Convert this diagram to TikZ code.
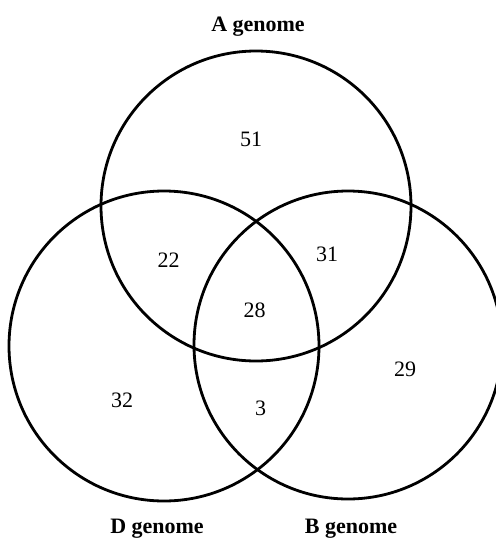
\documentclass[tikz,border=0pt]{standalone}
\usepackage{fontspec}
\setmainfont{Liberation Serif}
\begin{document}
\begin{tikzpicture}[x=1pt,y=-1pt,
  ring/.style={draw=black,line width=2.8pt},
  num/.style={inner sep=0pt,font=\fontsize{22}{25}\selectfont},
  lab/.style={inner sep=0pt,anchor=base,font=\fontsize{22}{25}\selectfont\bfseries}]
\useasboundingbox (0,0) rectangle (496,539);
\draw[ring] (256,206) circle[radius=155];
\draw[ring] (164,346) circle[radius=155];
\draw[ring] (348,345) circle[radius=154];
\node[lab] (la) at (258,31) {A genome};
\node[lab] (ld) at (157,533) {D genome};
\node[lab] (lb) at (351,533) {B genome};
\node[num] (n51) at (251,139.5) {51};
\node[num] (n22) at (168.5,260) {22};
\node[num] (n31) at (327,254) {31};
\node[num] (n28) at (254.5,310.5) {28};
\node[num] (n32) at (122,400) {32};
\node[num] (n3) at (260.5,408) {3};
\node[num] (n29) at (405,369) {29};
\end{tikzpicture}
\end{document}
